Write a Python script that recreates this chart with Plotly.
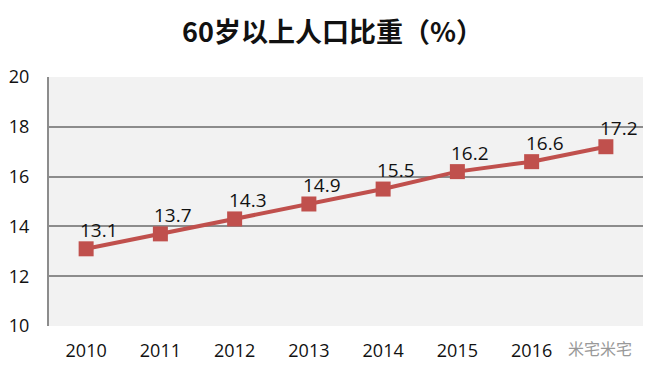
import plotly.graph_objects as go

years = ["2010", "2011", "2012", "2013", "2014", "2015", "2016", "2017"]
tick_labels = ["2010", "2011", "2012", "2013", "2014", "2015", "2016", ""]
share = [13.1, 13.7, 14.3, 14.9, 15.5, 16.2, 16.6, 17.2]
title = "60岁以上人口比重（%）"
watermark = "米宅米宅"

red = "#c0504d"
fig = go.Figure()
fig.add_trace(go.Scatter(
    x=years, y=share, mode="lines+markers",
    line=dict(color=red, width=4),
    marker=dict(symbol="square", size=15, color=red, line=dict(width=0)),
    showlegend=False, hoverinfo="skip",
))

fig.add_annotation(xref="paper", yref="paper", x=0.985, y=-0.095, yshift=-12, text=watermark,
                   showarrow=False, font=dict(family="Noto Sans CJK SC", size=16, color="#999"))

for i, y in enumerate(share):
    fig.add_annotation(x=i, y=y, xref="x", yref="y", text=f"{y}", showarrow=False,
                       xshift=13, yshift=19,
                       font=dict(family="Open Sans, Liberation Sans, sans-serif", size=19, color="#111"))

fig.update_layout(
    width=665, height=378,
    margin=dict(l=49, r=22, t=77, b=52),
    paper_bgcolor="white", plot_bgcolor="#f2f2f2",
    title=dict(text=title, x=0.5, xanchor="center", y=0.915, yanchor="middle",
               font=dict(family="Noto Sans CJK SC", size=27, color="#111", weight="bold")),
    xaxis=dict(type="category", tickvals=years, ticktext=tick_labels, range=[-0.5, 7.5],
               showgrid=False, showline=False, zeroline=False, ticks="", automargin=False,
               ticklabelstandoff=12,
               tickfont=dict(family="Open Sans, Liberation Sans, sans-serif", size=18, color="#111")),
    yaxis=dict(range=[10, 20], dtick=2, showgrid=True, gridcolor="#8c8c8c", gridwidth=2,
               showline=True, linecolor="#8c8c8c", linewidth=2, zeroline=False, ticks="",
               ticklabelstandoff=14, automargin=False,
               tickfont=dict(family="Open Sans, Liberation Sans, sans-serif", size=18, color="#111")),
)
fig.write_html("out.html", config={"displayModeBar": False},
               post_script="document.body.style.margin='0';")
